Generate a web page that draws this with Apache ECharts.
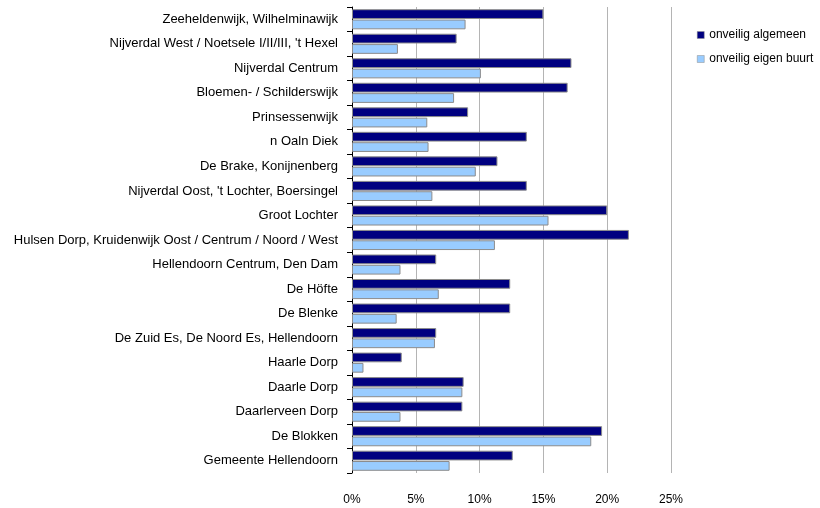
<!DOCTYPE html>
<html>
<head>
<meta charset="utf-8">
<script src="https://cdn.jsdelivr.net/npm/echarts@6/dist/echarts.min.js"></script>
<style>
  html, body { margin: 0; padding: 0; background: #fff; }
  #chart { width: 820px; height: 508px; }
</style>
</head>
<body>
<div id="chart"></div>
<script>
  const categories = [
    'Zeeheldenwijk, Wilhelminawijk',
    'Nijverdal West / Noetsele I/II/III, \'t Hexel',
    'Nijverdal Centrum',
    'Bloemen- / Schilderswijk',
    'Prinsessenwijk',
    'n Oaln Diek',
    'De Brake, Konijnenberg',
    'Nijverdal Oost, \'t Lochter, Boersingel',
    'Groot Lochter',
    'Hulsen Dorp, Kruidenwijk Oost / Centrum / Noord / West',
    'Hellendoorn Centrum, Den Dam',
    'De Höfte',
    'De Blenke',
    'De Zuid Es, De Noord Es, Hellendoorn',
    'Haarle Dorp',
    'Daarle Dorp',
    'Daarlerveen Dorp',
    'De Blokken',
    'Gemeente Hellendoorn'
  ]
  // percentages
  const onveiligAlgemeen = [15.0, 8.2, 17.2, 16.9, 9.1, 13.7, 11.4, 13.7, 20.0, 21.7, 6.6, 12.4, 12.4, 6.6, 3.9, 8.75, 8.65, 19.6, 12.6]
  const onveiligEigenBuurt = [8.9, 3.6, 10.1, 8.0, 5.9, 6.0, 9.7, 6.3, 15.4, 11.2, 3.8, 6.8, 3.5, 6.5, 0.9, 8.65, 3.8, 18.75, 7.65]
  const xTicks = [0, 5, 10, 15, 20, 25]

  const font = '"Liberation Sans", Arial, sans-serif'
  const chart = echarts.init(document.getElementById('chart'))
  chart.setOption({
    animation: false,
    textStyle: { fontFamily: font },
    grid: { left: 352, right: 149, top: 7, bottom: 35 },
    legend: {
      orient: 'vertical',
      left: 692,
      top: 24,
      itemWidth: 7,
      itemHeight: 7,
      itemGap: 12,
      icon: 'rect',
      itemStyle: { borderWidth: 0.5, borderColor: '#8c8c8c' },
      textStyle: { fontSize: 12, color: '#000', fontFamily: font },
      data: ['onveilig algemeen', 'onveilig eigen buurt']
    },
    xAxis: {
      type: 'value',
      min: xTicks[0],
      max: xTicks[xTicks.length - 1],
      interval: 5,
      axisLine: { show: false },
      axisTick: { show: false },
      axisLabel: { formatter: '{value}%', fontSize: 12, color: '#000', margin: 21 },
      splitLine: { lineStyle: { color: '#b4b4b4', width: 1 } }
    },
    yAxis: {
      type: 'category',
      inverse: true,
      data: categories,
      axisLine: { lineStyle: { color: '#000', width: 1 } },
      axisTick: { show: true, length: 5, lineStyle: { color: '#000' } },
      axisLabel: { fontSize: 13, color: '#000', margin: 14 }
    },
    series: [
      {
        name: 'onveilig algemeen',
        type: 'bar',
        data: onveiligAlgemeen,
        barGap: '6%',
        barCategoryGap: '18%',
        itemStyle: { color: '#000080', borderColor: '#8c8c8c', borderWidth: 1 }
      },
      {
        name: 'onveilig eigen buurt',
        type: 'bar',
        data: onveiligEigenBuurt,
        itemStyle: { color: '#99ccff', borderColor: '#8c8c8c', borderWidth: 1 }
      }
    ]
  })
</script>
</body>
</html>
